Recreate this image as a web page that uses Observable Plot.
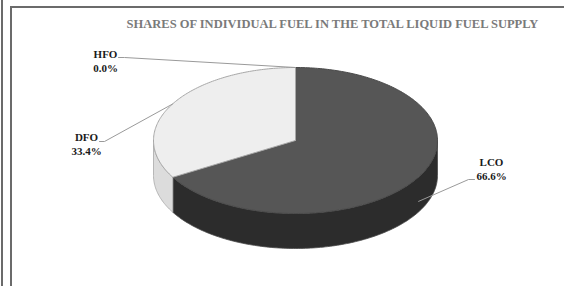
<!DOCTYPE html>
<html>
<head>
<meta charset="utf-8">
<script src="https://cdn.jsdelivr.net/npm/d3@7"></script>
<script src="https://cdn.jsdelivr.net/npm/@observablehq/plot@0.6"></script>
<style>
  html, body { margin: 0; padding: 0; background: #fff; }
  #wrap { position: relative; width: 564px; height: 286px; overflow: hidden; }
  .b { position: absolute; background: #6b6b6b; }
  #chart { position: absolute; left: 0; top: 0; }
</style>
</head>
<body>
<div id="wrap">
  <div class="b" style="left:1px;top:0;width:2px;height:286px"></div>
  <div class="b" style="left:10px;top:6px;width:2px;height:280px"></div>
  <div class="b" style="left:10px;top:6px;width:554px;height:2px"></div>
  <div id="chart"></div>
</div>
<script>
// ---- data ----
const categories = ["LCO", "DFO", "HFO"];
const shares = [66.6, 33.4, 0.0];
const title = "SHARES OF INDIVIDUAL FUEL IN THE TOTAL LIQUID FUEL SUPPLY";

// ---- styles / layout ----
const topColors = {LCO: "#565656", DFO: "#eeeeee", HFO: "#f4f4f4"};
const sideColors = {LCO: "#2c2c2c", DFO: "#dcdcdc", HFO: "#e6e6e6"};
const outline = {LCO: "#4a4a4a", DFO: "#a8a8a8", HFO: "#a8a8a8"};
const labelPos = {LCO: [491, 162], DFO: [86, 137], HFO: [105, 54]};
const leaderStart = {LCO: [[474, 179], [468, 179]], DFO: [[99, 141], [104, 141]], HFO: [[118, 57], [124, 57]]};
const leaderDepth = {LCO: 0.7, DFO: 0, HFO: 0};
const cx = 295, cy = 140, rx = 142, ry = 73, depth = 35;

const total = d3.sum(shares);
const pt = (t, dy = 0) => [cx + rx * Math.sin(t), cy - ry * Math.cos(t) + dy];

// slices clockwise from 12 o'clock
let acc = 0;
const slices = categories.map((c, i) => {
  const a0 = acc / total * 2 * Math.PI;
  acc += shares[i];
  const a1 = acc / total * 2 * Math.PI;
  return {c, v: shares[i], a0, a1};
});

function arc(a0, a1, dy) {
  const n = Math.max(2, Math.ceil((a1 - a0) / (Math.PI / 180)));
  return d3.range(n + 1).map(k => pt(a0 + (a1 - a0) * k / n, dy));
}

const topRows = [], sideRows = [], leaderRows = [], labelRows = [];
for (const s of slices) {
  // top face
  const poly = [[cx, cy], ...arc(s.a0, s.a1, 0), [cx, cy]];
  poly.forEach(([x, y]) => topRows.push({id: s.c, x, y, fill: topColors[s.c], stroke: outline[s.c]}));
  // visible side wall (front half)
  const b0 = Math.max(s.a0, Math.PI / 2), b1 = Math.min(s.a1, 3 * Math.PI / 2);
  if (b1 > b0) {
    const side = [...arc(b0, b1, 0), ...arc(b0, b1, depth).reverse()];
    side.push(side[0]);
    side.forEach(([x, y]) => sideRows.push({id: s.c, x, y, fill: sideColors[s.c], stroke: outline[s.c]}));
  }
  // leader line
  const mid = (s.a0 + s.a1) / 2;
  const end = pt(mid, depth * leaderDepth[s.c]);
  [...leaderStart[s.c], end].forEach(([x, y]) => leaderRows.push({id: s.c, x, y}));
  // label
  labelRows.push({c: s.c, x: labelPos[s.c][0], y: labelPos[s.c][1],
    text: s.c + "\n" + s.v.toFixed(1) + "%"});
}

const serif = "'Liberation Serif', 'Times New Roman', serif";

const chart = Plot.plot({
  width: 564,
  height: 286,
  margin: 0,
  style: {background: "transparent"},
  x: {domain: [0, 564], range: [0, 564], axis: null},
  y: {domain: [0, 286], range: [0, 286], axis: null},
  color: {type: "identity"},
  marks: [
    Plot.line(sideRows, {x: "x", y: "y", z: "id", fill: "fill", stroke: "stroke", strokeWidth: 0.8, curve: "linear"}),
    Plot.line(topRows, {x: "x", y: "y", z: "id", fill: "fill", stroke: "stroke", strokeWidth: 1, curve: "linear"}),
    Plot.line(leaderRows, {x: "x", y: "y", z: "id", stroke: "#9a9a9a", strokeWidth: 1}),
    Plot.text(labelRows, {x: "x", y: "y", text: "text", fill: "#1a1a1a", fontFamily: serif, fontWeight: "bold", fontSize: 11, lineHeight: 1.27, lineAnchor: "top", dy: -6}),
    Plot.text([title], {x: () => 332, y: () => 23, text: d => d, fill: "#7a7a7a", fontFamily: serif, fontWeight: "bold", fontSize: 12.5})
  ]
});
document.getElementById("chart").appendChild(chart);
</script>
</body>
</html>
